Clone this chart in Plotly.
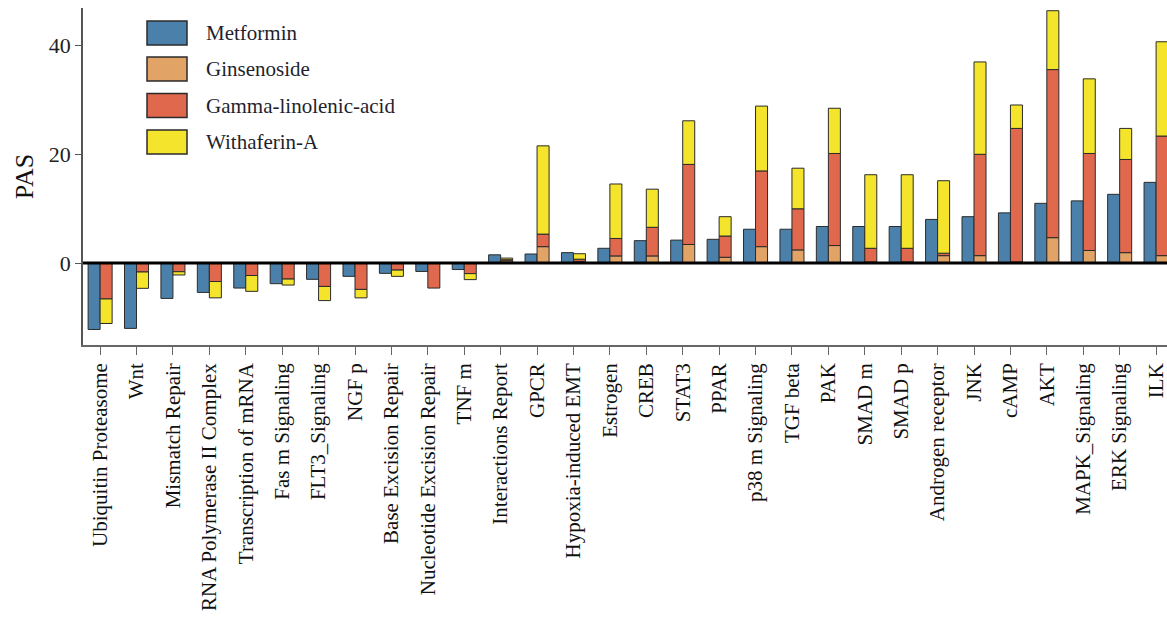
import plotly.graph_objects as go

# Pathway activation scores (PAS) per pathway
pathways = [
    "Ubiquitin Proteasome", "Wnt", "Mismatch Repair", "RNA Polymerase II Complex",
    "Transcription of mRNA", "Fas m Signaling", "FLT3_Signaling", "NGF p",
    "Base Excision Repair", "Nucleotide Excision Repair", "TNF m", "Interactions Report",
    "GPCR", "Hypoxia-induced EMT", "Estrogen", "CREB", "STAT3", "PPAR",
    "p38 m Signaling", "TGF beta", "PAK", "SMAD m", "SMAD p", "Androgen receptor",
    "JNK", "cAMP", "AKT", "MAPK_Signaling", "ERK Signaling", "ILK",
]

metformin = [-12.2, -12.0, -6.5, -5.4, -4.6, -3.8, -3.0, -2.45, -1.9, -1.55, -1.2, 1.5,
             1.65, 1.9, 2.7, 4.1, 4.2, 4.35, 6.2, 6.2, 6.7, 6.7, 6.7, 8.0,
             8.5, 9.2, 10.95, 11.4, 12.6, 14.8]
ginsenoside = [0, 0, 0, 0, 0, 0, 0, 0, 0, 0, 0, 0.4,
               3.0, 0.3, 1.3, 1.3, 3.4, 1.05, 3.0, 2.4, 3.2, 0.2, 0.2, 1.35,
               1.35, 0.2, 4.65, 2.3, 1.9, 1.35]
gamma_linolenic = [-6.6, -1.65, -1.6, -3.4, -2.3, -2.95, -4.3, -4.85, -1.3, -4.6, -1.95, 0.2,
                   2.3, 0.4, 3.2, 5.25, 14.7, 3.9, 13.9, 7.55, 16.9, 2.5, 2.5, 0.45,
                   18.6, 24.5, 30.85, 17.8, 17.1, 21.95]
withaferin = [-4.5, -3.0, -0.6, -3.0, -2.9, -1.1, -2.6, -1.55, -1.15, 0, -1.1, 0.3,
              16.2, 1.0, 10.0, 7.0, 8.0, 3.55, 11.9, 7.45, 8.3, 13.5, 13.5, 13.3,
              16.95, 4.3, 10.8, 13.7, 5.7, 17.3]

series_names = ["Metformin", "Ginsenoside", "Gamma-linolenic-acid", "Withaferin-A"]
colors = ["#4A80A9", "#E2A366", "#DF684D", "#F4E42C"]
outline = "#2b2b2b"
serif = "Liberation Serif, Times New Roman, serif"


def stack_bases(*series):
    """Relative stacking: positives pile up from 0, negatives pile down from 0."""
    n = len(series[0])
    pos = [0.0] * n
    neg = [0.0] * n
    bases = []
    for s in series:
        b = []
        for i, v in enumerate(s):
            if v >= 0:
                b.append(pos[i])
                pos[i] += v
            else:
                b.append(neg[i])
                neg[i] += v
        bases.append(b)
    return bases


stacked = [ginsenoside, gamma_linolenic, withaferin]
bases = stack_bases(*stacked)

fig = go.Figure()
fig.add_trace(go.Bar(
    x=pathways, y=metformin, name=series_names[0], offsetgroup="single",
    marker=dict(color=colors[0], line=dict(color=outline, width=1)),
))
for name, vals, base, col in zip(series_names[1:], stacked, bases, colors[1:]):
    fig.add_trace(go.Bar(
        x=pathways, y=vals, base=base, name=name, offsetgroup="combo",
        marker=dict(color=col, line=dict(color=outline, width=1)),
    ))

# Plot-area geometry in pixels, used to place the hand-drawn legend
W, H = 1167, 618
ML, MR, MT, MB = 83, 0, 8, 273
PW, PH = W - ML - MR, H - MT - MB


def px_x(px):
    return (px - ML) / PW


def px_y(py):
    return (H - MB - py) / PH


shapes = [
    # heavy baseline at PAS = 0
    dict(type="line", xref="paper", x0=0, x1=1, yref="y", y0=0, y1=0,
         line=dict(color="black", width=3), layer="above"),
]
annotations = []
box_left, box_right, box_h = 147, 187, 24
row_tops = [21, 57, 93.5, 130]
for name, col, top in zip(series_names, colors, row_tops):
    shapes.append(dict(
        type="rect", xref="paper", yref="paper",
        x0=px_x(box_left), x1=px_x(box_right),
        y0=px_y(top + box_h), y1=px_y(top),
        fillcolor=col, line=dict(color=outline, width=1.5), layer="above",
    ))
    annotations.append(dict(
        text=name, xref="paper", yref="paper",
        x=px_x(204), y=px_y(top + box_h / 2), xanchor="left", yanchor="middle",
        showarrow=False, font=dict(family=serif, size=21, color="#1f1f2e"),
    ))

fig.update_layout(
    width=W, height=H,
    margin=dict(l=ML, r=MR, t=MT, b=MB),
    paper_bgcolor="white", plot_bgcolor="white",
    barmode="group", bargap=0.34, bargroupgap=0,
    showlegend=False,
    font=dict(family=serif, color="#111"),
    shapes=shapes, annotations=annotations,
)
fig.update_xaxes(
    type="category", range=[-0.47, 29.3],
    showgrid=False, zeroline=False,
    showline=True, linecolor="#666", linewidth=1.5,
    ticks="outside", ticklen=8, tickcolor="#666", tickwidth=1.2,
    tickangle=-90, tickfont=dict(family=serif, size=21, color="#111"),
)
fig.update_yaxes(
    range=[-15.05, 46.8], tickvals=[0, 20, 40],
    showgrid=False, zeroline=False,
    showline=True, linecolor="#555", linewidth=1.5,
    ticks="outside", ticklen=6, tickcolor="#555", tickwidth=1.2,
    tickfont=dict(family=serif, size=22, color="#222"),
    title=dict(text="PAS", font=dict(family=serif, size=26, color="#111"), standoff=8),
)

fig.write_html("out.html")
